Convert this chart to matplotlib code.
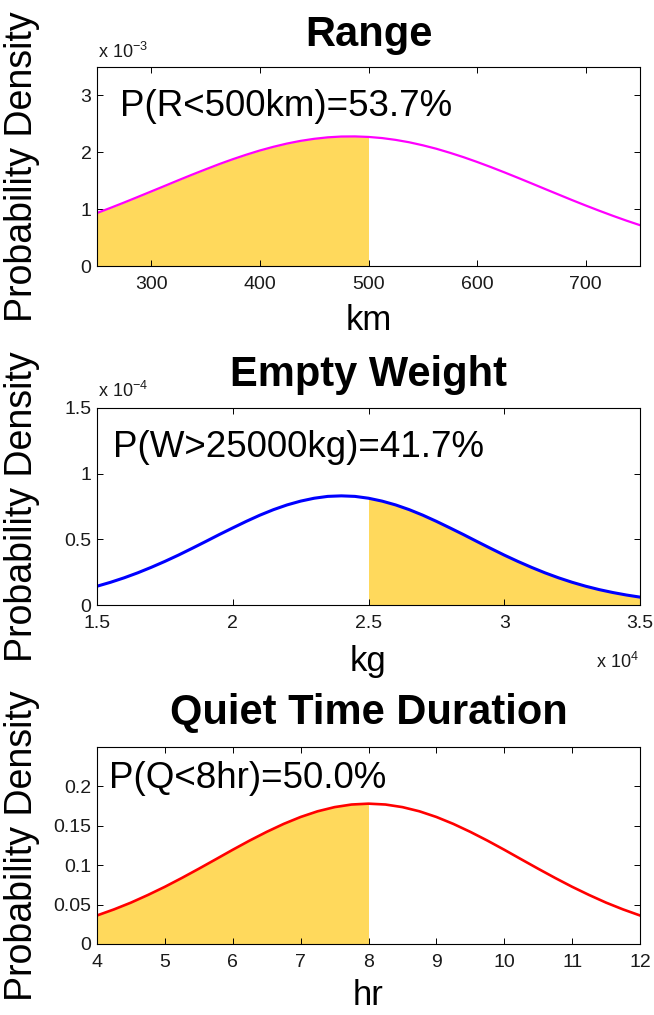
import matplotlib
matplotlib.use("Agg")
import matplotlib.pyplot as plt
import numpy as np
from matplotlib.ticker import FuncFormatter

# values
range_km = [250, 262.5, 275, 287.5, 300, 312.5, 325, 337.5, 350, 362.5, 375, 387.5,
            400, 412.5, 425, 437.5, 450, 462.5, 475, 487.5, 500, 512.5, 525, 537.5,
            550, 562.5, 575, 587.5, 600, 612.5, 625, 637.5, 650, 662.5, 675, 687.5,
            700, 712.5, 725, 737.5, 750]
range_pdf = [0.932e-3, 1.023e-3, 1.117e-3, 1.214e-3, 1.312e-3, 1.410e-3, 1.509e-3,
             1.606e-3, 1.700e-3, 1.792e-3, 1.878e-3, 1.958e-3, 2.032e-3, 2.097e-3,
             2.154e-3, 2.201e-3, 2.237e-3, 2.263e-3, 2.277e-3, 2.279e-3, 2.270e-3,
             2.250e-3, 2.218e-3, 2.176e-3, 2.123e-3, 2.062e-3, 1.991e-3, 1.914e-3,
             1.830e-3, 1.741e-3, 1.648e-3, 1.552e-3, 1.454e-3, 1.355e-3, 1.257e-3,
             1.159e-3, 1.064e-3, 0.972e-3, 0.883e-3, 0.798e-3, 0.718e-3]

weight_kg = [15000, 15500, 16000, 16500, 17000, 17500, 18000, 18500, 19000, 19500,
             20000, 20500, 21000, 21500, 22000, 22500, 23000, 23500, 24000, 24500,
             25000, 25500, 26000, 26500, 27000, 27500, 28000, 28500, 29000, 29500,
             30000, 30500, 31000, 31500, 32000, 32500, 33000, 33500, 34000, 34500, 35000]
weight_pdf = [0.143e-4, 0.173e-4, 0.207e-4, 0.245e-4, 0.287e-4, 0.332e-4, 0.380e-4,
              0.431e-4, 0.483e-4, 0.536e-4, 0.587e-4, 0.637e-4, 0.684e-4, 0.726e-4,
              0.762e-4, 0.791e-4, 0.813e-4, 0.827e-4, 0.831e-4, 0.827e-4, 0.813e-4,
              0.791e-4, 0.762e-4, 0.726e-4, 0.684e-4, 0.637e-4, 0.587e-4, 0.536e-4,
              0.483e-4, 0.431e-4, 0.380e-4, 0.332e-4, 0.287e-4, 0.245e-4, 0.207e-4,
              0.173e-4, 0.143e-4, 0.117e-4, 0.095e-4, 0.076e-4, 0.060e-4]

quiet_hr = [4, 4.25, 4.5, 4.75, 5, 5.25, 5.5, 5.75, 6, 6.25, 6.5, 6.75, 7, 7.25, 7.5,
            7.75, 8, 8.25, 8.5, 8.75, 9, 9.25, 9.5, 9.75, 10, 10.25, 10.5, 10.75, 11,
            11.25, 11.5, 11.75, 12]
quiet_pdf = [0.0362, 0.0439, 0.0525, 0.0622, 0.0726, 0.0838, 0.0955, 0.1075, 0.1196,
             0.1313, 0.1423, 0.1524, 0.1612, 0.1684, 0.1737, 0.1770, 0.1781, 0.1770,
             0.1737, 0.1684, 0.1612, 0.1524, 0.1423, 0.1313, 0.1196, 0.1075, 0.0955,
             0.0838, 0.0726, 0.0622, 0.0525, 0.0439, 0.0362]

titles = ["Range", "Empty Weight", "Quiet Time Duration"]
xlabels = ["km", "kg", "hr"]
notes = ["P(R<500km)=53.7%", "P(W>25000kg)=41.7%", "P(Q<8hr)=50.0%"]

plt.rcParams['font.family'] = ['Liberation Sans', 'DejaVu Sans']
plt.rcParams['mathtext.fontset'] = 'custom'
plt.rcParams['mathtext.rm'] = 'Liberation Sans'

FILL = "#FFD95C"
W, H = 654, 1015

fig = plt.figure(figsize=(6.54, 10.15), dpi=100)


def make_axes(top, bottom):
    return fig.add_axes([97 / W, 1 - bottom / H, 543 / W, (bottom - top) / H])


def style(ax):
    ax.tick_params(direction="in", top=True, right=True, length=4, width=0.7,
                   labelsize=14, labelcolor="#1a1a1a")
    ax.tick_params(axis="x", pad=7)
    ax.tick_params(axis="y", pad=4)
    for s in ax.spines.values():
        s.set_linewidth(0.8)


def decorate(ax, title, xlabel, note, note_xy, title_gap, xlabel_gap):
    h = ax.get_position().height * H
    ax.text(0.5, 1 + title_gap / h, title, transform=ax.transAxes, ha="center",
            va="baseline", fontsize=30, fontweight="bold")
    ax.text(0.5, -xlabel_gap / h, xlabel, transform=ax.transAxes, ha="center",
            va="baseline", fontsize=25)
    ax.text(note_xy[0], note_xy[1], note, transform=ax.transAxes, ha="left",
            va="baseline", fontsize=26.5)
    pos = ax.get_position()
    fig.text(22 / W, pos.y0 + pos.height / 2, "Probability Density", rotation=90,
             ha="center", va="center", fontsize=27)


# Range
ax1 = make_axes(67, 266)
x = np.array(range_km)
y = np.array(range_pdf)
m = x <= 500
ax1.fill_between(x[m], 0, y[m], color=FILL, lw=0)
ax1.plot(x, y, color="#ff00ff", lw=1.6)
ax1.set_xlim(250, 750)
ax1.set_ylim(0, 3.5e-3)
ax1.set_xticks([300, 400, 500, 600, 700])
ax1.set_yticks([0, 1e-3, 2e-3, 3e-3])
ax1.yaxis.set_major_formatter(FuncFormatter(lambda v, p: f"{v * 1e3:g}"))
style(ax1)
decorate(ax1, titles[0], xlabels[0], notes[0], (0.042, 0.754), 21, 64)
ax1.text(0.002, 1 + 9 / 199, r"x $\mathregular{10^{-3}}$", transform=ax1.transAxes,
         ha="left", va="baseline", fontsize=13, color="#1a1a1a")

# Empty weight
ax2 = make_axes(408, 605)
x = np.array(weight_kg)
y = np.array(weight_pdf)
m = x >= 25000
ax2.fill_between(x[m], 0, y[m], color=FILL, lw=0)
ax2.plot(x, y, color="#0000ff", lw=2.2)
ax2.set_xlim(15000, 35000)
ax2.set_ylim(0, 1.5e-4)
ax2.set_xticks([15000, 20000, 25000, 30000, 35000])
ax2.set_yticks([0, 0.5e-4, 1e-4, 1.5e-4])
ax2.xaxis.set_major_formatter(FuncFormatter(lambda v, p: f"{v / 1e4:g}"))
ax2.yaxis.set_major_formatter(FuncFormatter(lambda v, p: f"{v * 1e4:g}"))
style(ax2)
decorate(ax2, titles[1], xlabels[1], notes[1], (0.029, 0.753), 22, 66)
ax2.text(0.002, 1 + 11 / 197, r"x $\mathregular{10^{-4}}$", transform=ax2.transAxes,
         ha="left", va="baseline", fontsize=13, color="#1a1a1a")
ax2.text(0.998, -63 / 197, r"x $\mathregular{10^{4}}$", transform=ax2.transAxes,
         ha="right", va="baseline", fontsize=13, color="#1a1a1a")

# Quiet time
ax3 = make_axes(747, 944)
x = np.array(quiet_hr)
y = np.array(quiet_pdf)
m = x <= 8
ax3.fill_between(x[m], 0, y[m], color=FILL, lw=0)
ax3.plot(x, y, color="#ff0000", lw=1.9)
ax3.set_xlim(4, 12)
ax3.set_ylim(0, 0.25)
ax3.set_xticks(range(4, 13))
ax3.set_yticks([0, 0.05, 0.1, 0.15, 0.2])
ax3.yaxis.set_major_formatter(FuncFormatter(lambda v, p: f"{v:g}"))
style(ax3)
decorate(ax3, titles[2], xlabels[2], notes[2], (0.023, 0.79), 23, 61)

fig.savefig("out.png", dpi=100)
